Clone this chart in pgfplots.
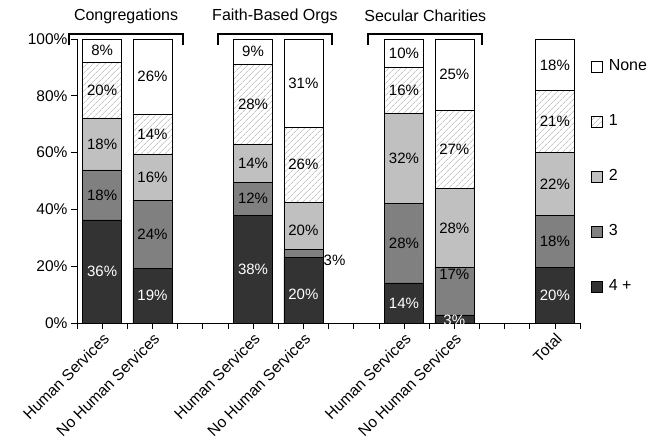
\documentclass[border=0pt]{standalone}
\usepackage{pgfplots}
\pgfplotsset{compat=1.18}
\usepackage{pgfplotstable}
\usepackage{fontspec}
\setmainfont{Liberation Sans}
\usetikzlibrary{patterns.meta}

\definecolor{cFour}{HTML}{333333}
\definecolor{cThree}{HTML}{808080}
\definecolor{cTwo}{HTML}{C0C0C0}
\definecolor{hatch}{HTML}{A8A8A8}

% bottom to top: 4+, 3, 2, 1, None
\pgfplotstableread{
x a b c d e
0 36.3 17.6 18.3 19.7 8.1
1 19.2 24.1 16.2 14.1 26.4
3 38.0 11.5 13.4 28.3 8.8
4 23.2 2.8 16.5 26.5 31.0
6 14.1 27.9 31.9 16.2 9.9
7 2.9 16.8 27.6 27.5 25.2
9 19.7 18.1 22.3 21.7 18.2
}\bars

\pgfplotstableread{
x y lab
0 18.15 36
1 9.6 19
3 19 38
4 10 20
6 7 14
7 0.9 3
9 9.85 20
}\whitelabels

\pgfplotstableread{
x y lab
0 45.1 18
0 63.05 18
0 82.05 20
0 95.95 8
1 31.25 24
1 51.4 16
1 66.55 14
1 86.8 26
3 43.75 12
3 56.2 14
3 77.05 28
3 95.6 9
4 32.5 20
4 55.75 26
4 84.5 31
6 28.05 28
6 57.95 32
6 82 16
6 95.05 10
7 17 17
7 33.5 28
7 61.05 27
7 87.4 25
9 28.75 18
9 48.95 22
9 70.95 21
9 90.9 18
}\blacklabels

\pgfplotstableread{
x y lab
4.4 22 3
}\sidelabels

\begin{document}
\begin{tikzpicture}[font=\fontsize{15}{18}\selectfont]
\begin{axis}[
  at={(0pt,0pt)}, anchor=south west,
  scale only axis, width=503pt, height=284pt,
  xmin=-0.5, xmax=9.5, ymin=0, ymax=100,
  enlargelimits=false, clip=false,
  ybar stacked, bar width=39pt,
  axis x line*=bottom, axis y line*=left,
  axis line style={black, line width=0.6pt},
  tick align=outside,
  major tick length=6pt, minor tick length=6pt,
  tick style={black, line width=0.6pt},
  xtick={0,1,3,4,6,7,9},
  minor xtick={-0.5,0.5,1.5,2,2.5,3.5,4.5,5,5.5,6.5,7.5,8,8.5,9.5},
  xticklabels={Human Services,No Human Services,Human Services,No Human Services,Human Services,No Human Services,Total},
  xticklabel style={rotate=45, anchor=north east, inner sep=2pt, font=\fontsize{15.5}{18}\selectfont},
  ytick={0,20,40,60,80,100},
  yticklabels={0\%,20\%,40\%,60\%,80\%,100\%},
  yticklabel style={font=\fontsize{15.5}{18}\selectfont},
  legend image code/.code={\draw[#1] (0pt,-5.5pt) rectangle (11.5pt,5.5pt); \path (16pt,0pt);},
  reverse legend,
  legend style={draw=none, fill=none, at={(1.015,0.94)}, anchor=north west,
    font=\fontsize{16}{19}\selectfont, row sep=38pt,
    nodes={text height=11pt, text depth=3pt, inner sep=1.5pt}},
  legend cell align=left,
]
\addplot[draw=black, line width=0.5pt, fill=cFour] table[x=x, y=a] {\bars};
\addlegendentry{4 +}
\addplot[draw=black, line width=0.5pt, fill=cThree] table[x=x, y=b] {\bars};
\addlegendentry{3}
\addplot[draw=black, line width=0.5pt, fill=cTwo] table[x=x, y=c] {\bars};
\addlegendentry{2}
\addplot[draw=black, line width=0.5pt, fill=white, postaction={pattern={Lines[angle=45, distance=4pt, line width=0.6pt]}, pattern color=hatch}] table[x=x, y=d] {\bars};
\addlegendentry{1}
\addplot[draw=black, line width=0.5pt, fill=white] table[x=x, y=e] {\bars};
\addlegendentry{None}

% group brackets and names
\draw[line width=2pt] (axis cs:-0.65,98) -- (axis cs:-0.65,101.9) -- (axis cs:1.6,101.9) -- (axis cs:1.6,98);
\draw[line width=2pt] (axis cs:2.31,98) -- (axis cs:2.31,101.9) -- (axis cs:4.56,101.9) -- (axis cs:4.56,98);
\draw[line width=2pt] (axis cs:5.29,98) -- (axis cs:5.29,101.9) -- (axis cs:7.56,101.9) -- (axis cs:7.56,98);
\node[font=\fontsize{16}{19}\selectfont] at (axis cs:0.475,108) {Congregations};
\node[font=\fontsize{16}{19}\selectfont] at (axis cs:3.435,108) {Faith-Based Orgs};
\node[font=\fontsize{16}{19}\selectfont] at (axis cs:6.425,108) {Secular Charities};
\end{axis}

\begin{axis}[
  at={(0pt,0pt)}, anchor=south west,
  scale only axis, width=503pt, height=284pt,
  xmin=-0.5, xmax=9.5, ymin=0, ymax=100,
  enlargelimits=false, clip=false, hide axis,
]
\addplot[draw=none, mark=none, nodes near coords={\pgfplotspointmeta\%}, point meta=explicit symbolic,
  every node near coord/.append style={anchor=center, text=white, inner sep=0pt}]
  table[x=x, y=y, meta=lab] {\whitelabels};
\addplot[draw=none, mark=none, nodes near coords={\pgfplotspointmeta\%}, point meta=explicit symbolic,
  every node near coord/.append style={anchor=center, text=black, inner sep=0pt}]
  table[x=x, y=y, meta=lab] {\blacklabels};
\addplot[draw=none, mark=none, nodes near coords={\pgfplotspointmeta\%}, point meta=explicit symbolic,
  every node near coord/.append style={anchor=west, text=black, inner sep=0pt}]
  table[x=x, y=y, meta=lab] {\sidelabels};
\end{axis}
\pgfresetboundingbox
\useasboundingbox (-77pt,-123pt) rectangle (578pt,323pt);
\end{tikzpicture}
\end{document}
